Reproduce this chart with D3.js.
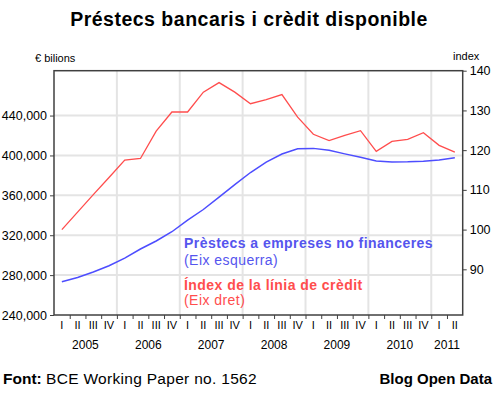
<!DOCTYPE html>
<html>
<head>
<meta charset="utf-8">
<script src="https://cdn.jsdelivr.net/npm/d3@7"></script>
<style>
  body { margin: 0; background: #fff; }
  svg text { font-family: "Liberation Sans", Arial, sans-serif; }
</style>
</head>
<body>
<div id="chart"></div>
<script>
// dades
var years = ["2005", "2006", "2007", "2008", "2009", "2010", "2011"];
var quarters = ["I","II","III","IV","I","II","III","IV","I","II","III","IV","I","II","III","IV",
                "I","II","III","IV","I","II","III","IV","I","II"];
// préstecs a empreses no financeres (€ bilions, eix esquerra)
var prestecs = [273400, 277600, 283100, 289400, 297100, 306200, 314200, 323500, 335200, 345800,
                358300, 370800, 382900, 393400, 401400, 406700, 407100, 405200, 401600, 398100,
                394400, 393400, 393600, 394200, 395400, 397600];
// índex de la línia de crèdit (eix dret)
var index = [100, 104.4, 108.8, 113.1, 117.5, 117.9, 124.8, 129.6, 129.6, 134.6,
             137.0, 134.6, 131.7, 132.7, 134.0, 128.3, 124.0, 122.4, 123.7, 124.9,
             119.7, 122.2, 122.7, 124.4, 121.2, 119.5];
var leftTicks = [240000, 280000, 320000, 360000, 400000, 440000];
var rightTicks = [90, 100, 110, 120, 130, 140];

var W = 498, H = 397;
var margin = {top: 70.7, right: 35.3, bottom: 82, left: 54};
var x0 = margin.left, x1 = W - margin.right, y0 = H - margin.bottom, y1 = margin.top;

var svg = d3.select("#chart").append("svg")
    .attr("width", W)
    .attr("height", H);

var idx = d3.range(quarters.length);
var x = d3.scaleBand().domain(idx).range([x0, x1]);
var xq = d3.scaleLinear().domain([0, quarters.length]).range([x0, x1]);
var yL = d3.scaleLinear().domain([240000, 485000]).range([y0, y1]);
var yR = d3.scaleLinear().domain([78.5, 140]).range([y0, y1]);

// graella
svg.append("g").selectAll("line")
    .data(leftTicks.slice(1))
  .enter().append("line")
    .attr("x1", x0).attr("x2", x1)
    .attr("y1", function(d) { return yL(d); })
    .attr("y2", function(d) { return yL(d); })
    .attr("stroke", "#e4e4e4").attr("stroke-width", 2);

var yearStart = [];
var acc = 0;
years.forEach(function(y, i) {
  var n = quarters.filter(function(q, j) { return Math.floor(j / 4) === i; }).length;
  yearStart.push({year: y, start: acc, n: n});
  acc += n;
});

svg.append("g").selectAll("line")
    .data(yearStart.slice(1))
  .enter().append("line")
    .attr("x1", function(d) { return xq(d.start); })
    .attr("x2", function(d) { return xq(d.start); })
    .attr("y1", y0).attr("y2", y1)
    .attr("stroke", "#e4e4e4").attr("stroke-width", 2);

// línies
var lineL = d3.line()
    .x(function(d, i) { return x(i) + x.bandwidth() / 2; })
    .y(function(d) { return yL(d); });
var lineR = d3.line()
    .x(function(d, i) { return x(i) + x.bandwidth() / 2; })
    .y(function(d) { return yR(d); });

svg.append("path").datum(index)
    .attr("d", lineR)
    .attr("fill", "none").attr("stroke", "#ff4d4d").attr("stroke-width", 1.3);
svg.append("path").datum(prestecs)
    .attr("d", lineL)
    .attr("fill", "none").attr("stroke", "#4d4dff").attr("stroke-width", 1.5);

// marc
svg.append("rect")
    .attr("x", x0).attr("y", y1)
    .attr("width", x1 - x0).attr("height", y0 - y1)
    .attr("fill", "none").attr("stroke", "#404040").attr("stroke-width", 1.5);

// eixos
var axL = svg.append("g")
    .attr("transform", "translate(" + x0 + ",0)")
    .call(d3.axisLeft(yL).tickValues(leftTicks).tickFormat(d3.format(",")).tickSize(4).tickPadding(3));
var axR = svg.append("g")
    .attr("transform", "translate(" + x1 + ",0)")
    .call(d3.axisRight(yR).tickValues(rightTicks).tickSize(4).tickPadding(3));
var axX = svg.append("g")
    .attr("transform", "translate(0," + y0 + ")")
    .call(d3.axisBottom(xq).tickValues(d3.range(1, quarters.length)).tickFormat("").tickSize(4));
var axQ = svg.append("g")
    .attr("transform", "translate(0," + y0 + ")")
    .call(d3.axisBottom(x).tickFormat(function(d) { return quarters[d]; }).tickSize(0).tickPadding(6));

[axL, axR, axX, axQ].forEach(function(a) {
  a.select(".domain").remove();
  a.selectAll(".tick line").attr("stroke", "#404040");
  a.selectAll("text").attr("fill", "#000").style("font-size", "12.5px");
});
axQ.selectAll("text").style("font-size", "11px");

svg.append("g").selectAll("text")
    .data(yearStart)
  .enter().append("text")
    .attr("x", function(d) { return xq(d.start + d.n / 2); })
    .attr("y", y0 + 34)
    .attr("text-anchor", "middle")
    .style("font-size", "12px")
    .text(function(d) { return d.year; });

// títols
svg.append("text")
    .attr("x", W / 2).attr("y", 26)
    .attr("text-anchor", "middle")
    .style("font-size", "19.5px").style("font-weight", "bold")
    .style("letter-spacing", "0.5px")
    .text("Préstecs bancaris i crèdit disponible");
svg.append("text")
    .attr("x", 35).attr("y", 62)
    .style("font-size", "11px")
    .text("€ bilions");
svg.append("text")
    .attr("x", 453).attr("y", 60)
    .style("font-size", "11px")
    .text("index");

// llegenda
var lg = svg.append("g").attr("transform", "translate(184,0)")
    .style("letter-spacing", "0.45px");
lg.append("text").attr("y", 248).style("font-size", "14px").style("font-weight", "bold")
    .attr("fill", "#5555ee").text("Prèstecs a empreses no financeres");
lg.append("text").attr("y", 264.5).style("font-size", "14px")
    .attr("fill", "#5555ee").text("(Eix esquerra)");
lg.append("text").attr("y", 289.5).style("font-size", "14px").style("font-weight", "bold")
    .attr("fill", "#ff4d4d").text("Índex de la línia de crèdit");
lg.append("text").attr("y", 305).style("font-size", "14px")
    .attr("fill", "#ff4d4d").text("(Eix dret)");

// peu
var ft = svg.append("text").attr("x", 3).attr("y", 384).style("font-size", "15.5px");
ft.append("tspan").style("font-weight", "bold").text("Font: ");
ft.append("tspan").style("letter-spacing", "0.3px").text("BCE Working Paper no. 1562");
svg.append("text")
    .attr("x", 492).attr("y", 384)
    .attr("text-anchor", "end")
    .style("font-size", "15px").style("font-weight", "bold")
    .text("Blog Open Data");
</script>
</body>
</html>
